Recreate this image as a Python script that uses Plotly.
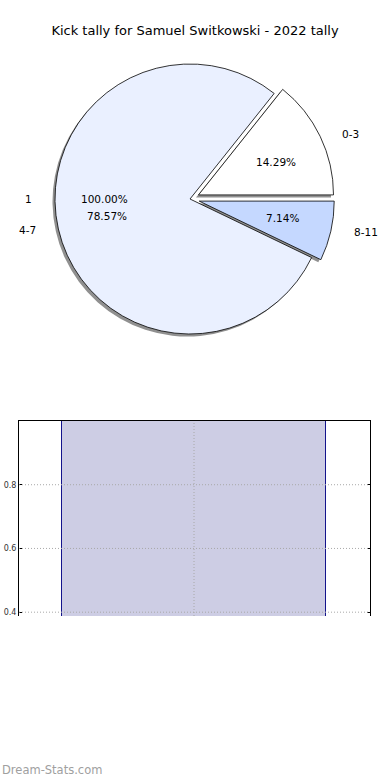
import math
import plotly.graph_objects as go

# ---- data ----
chart_title = "Kick tally for Samuel Switkowski - 2022 tally"
pie_labels = ["0-3", "4-7", "8-11"]
pie_counts = [2, 11, 1]
pie_pull = [0.07, 0.0, 0.07]
pie_colors = ["#ffffff", "#eaf0ff", "#c5d8ff"]
extra_labels = ["1"]
extra_counts = [1]
bar_x = [0]
bar_y = [1]
y_ticks = [0.4, 0.6, 0.8]
y_ticktext = ["0.4", "0.6", "0.8"]
watermark = "Dream-Stats.com"

# ---- geometry / style ----
W, H = 390, 780
CX, CY, R = 190, 199, 135       # pie centre and radius (px)
LX, LY = 142, 128               # text placement radii (px)
FONT = "DejaVu Sans"
GRID = dict(color="#a8a8a8", width=1, dash="1px,2px")


def fx(x):
    return x / W


def fy(y):
    return 1 - y / H


maxpull = max(pie_pull)
half = R * (1 + maxpull)
total = sum(pie_counts)
# first slice starts at 3 o'clock and runs counter-clockwise
rot = 90 - 360.0 * pie_counts[0] / total

fig = go.Figure()

# shadow pie
SH = 2.5
fig.add_trace(go.Pie(
    values=pie_counts, labels=pie_labels, pull=pie_pull, sort=False,
    direction="counterclockwise", rotation=rot,
    marker=dict(colors=["rgba(70,70,70,0.6)"] * len(pie_counts), line=dict(width=0)),
    textinfo="none", hoverinfo="skip", showlegend=False,
    domain=dict(x=[fx(CX - SH - half), fx(CX - SH + half)],
                y=[fy(CY + SH + half), fy(CY + SH - half)]),
))

# main pie
fig.add_trace(go.Pie(
    values=pie_counts, labels=pie_labels, pull=pie_pull, sort=False,
    direction="counterclockwise", rotation=rot,
    marker=dict(colors=pie_colors, line=dict(color="#000000", width=0.8)),
    textinfo="none", hoverinfo="label+percent", showlegend=False,
    domain=dict(x=[fx(CX - half), fx(CX + half)],
                y=[fy(CY + half), fy(CY - half)]),
))

annotations = []


def add_slice_texts(labels, counts, pulls):
    tot = sum(counts)
    cum = 0
    for lab, v, p in zip(labels, counts, pulls):
        theta = math.radians(360.0 * (cum + v / 2.0) / tot)
        cum += v
        c, s = math.cos(theta), math.sin(theta)
        xl = CX + (1.1 + p) * LX * c
        yl = CY - (1.1 + p) * LY * s
        annotations.append(dict(
            x=fx(xl), y=fy(yl), xref="paper", yref="paper", text=lab,
            showarrow=False, xanchor="left" if c > 0 else "right", yanchor="middle",
            font=dict(family=FONT, size=10.5, color="#000000")))
        xp = CX + (0.6 + p) * LX * c
        yp = CY - (0.6 + p) * LY * s
        annotations.append(dict(
            x=fx(xp), y=fy(yp), xref="paper", yref="paper",
            text="%.2f%%" % (100.0 * v / tot),
            showarrow=False, xanchor="center", yanchor="middle",
            font=dict(family=FONT, size=10.5, color="#000000")))


add_slice_texts(pie_labels, pie_counts, pie_pull)
add_slice_texts(extra_labels, extra_counts, [0.0])

# watermark
annotations.append(dict(
    x=0, y=fy(770), xref="paper", yref="paper", text=watermark, showarrow=False,
    xanchor="left", yanchor="middle",
    font=dict(family=FONT, size=11.5, color="#a0a0a0")))

# bar chart
fig.add_trace(go.Bar(
    x=bar_x, y=bar_y, width=0.8, xaxis="x", yaxis="y",
    marker=dict(color="#cdcde4", line=dict(color="#14148c", width=1)),
    showlegend=False, hoverinfo="skip",
))

# dotted grid drawn above the bar (as in the reference)
shapes = []
for xv in bar_x:
    shapes.append(dict(type="line", xref="x", yref="y domain", x0=xv, x1=xv, y0=0, y1=1,
                       line=GRID, layer="above"))
for yv in y_ticks:
    shapes.append(dict(type="line", xref="x domain", yref="y", x0=0, x1=1, y0=yv, y1=yv,
                       line=GRID, layer="above"))

fig.update_layout(
    width=W, height=H,
    margin=dict(l=0, r=0, t=0, b=0),
    paper_bgcolor="white", plot_bgcolor="white",
    font=dict(family=FONT, color="#000000"),
    title=dict(text=chart_title, x=0.5, xanchor="center", xref="paper",
               y=fy(30), yanchor="middle", yref="paper",
               font=dict(family=FONT, size=13, color="#000000")),
    xaxis=dict(domain=[fx(19), fx(370)], range=[-0.53, 0.533], side="top",
               showline=True, linecolor="#000000", linewidth=1, mirror=False,
               tickvals=bar_x, showticklabels=False, ticks="",
               showgrid=False, zeroline=False, fixedrange=True),
    yaxis=dict(domain=[fy(616), fy(421)], range=[0.388, 1.0],
               tickvals=y_ticks, ticktext=y_ticktext,
               showline=True, linecolor="#000000", linewidth=1, mirror="ticks",
               ticks="inside", ticklen=3, tickcolor="#000000",
               tickfont=dict(family=FONT, size=8, color="#333333"),
               showgrid=False, zeroline=False, fixedrange=True),
    annotations=annotations,
    shapes=shapes,
    bargap=0,
)

fig.write_html("out.html", config={"displayModeBar": False},
               post_script="document.body.style.margin='0';")
